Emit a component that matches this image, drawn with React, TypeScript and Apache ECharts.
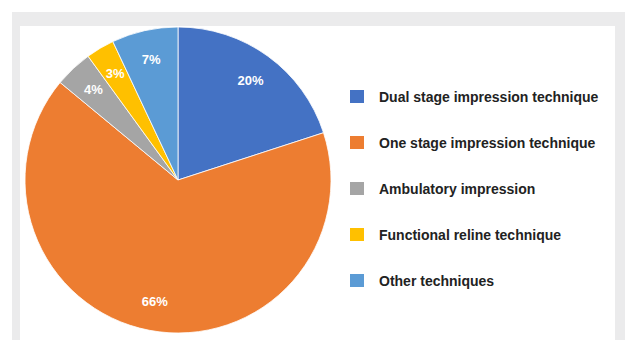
import React, { useEffect, useRef } from "react";
import * as echarts from "echarts";

const categories = [
  "Dual stage impression technique",
  "One stage impression technique",
  "Ambulatory impression",
  "Functional reline technique",
  "Other techniques",
];
const values = [20, 66, 4, 3, 7];
const colors = ["#4472c4", "#ed7d31", "#a5a5a5", "#ffc000", "#5b9bd5"];

export default function App() {
  const ref = useRef<HTMLDivElement>(null);
  useEffect(() => {
    if (!ref.current) return;
    const chart = echarts.init(ref.current, null, { renderer: "svg" });
    const data = categories.map((name, i) => ({
      name,
      value: values[i],
      itemStyle: { color: colors[i] },
    }));
    chart.setOption({
      animation: false,
      backgroundColor: "transparent",
      legend: {
        orient: "vertical",
        left: 343,
        top: 83,
        itemWidth: 16,
        itemHeight: 15,
        itemGap: 29,
        icon: "rect",
        data: categories,
        textStyle: {
          fontFamily: "Liberation Sans, Arial, sans-serif",
          fontSize: 14,
          fontWeight: "bold",
          color: "#222",
          padding: [0, 0, 0, 9],
        },
      },
      series: [
        {
          type: "pie",
          center: [178, 180],
          radius: [0, 153],
          startAngle: 90,
          clockwise: true,
          silent: true,
          data,
          itemStyle: { borderColor: "#ffffff", borderWidth: 0.8 },
          label: { show: false },
          labelLine: { show: false },
        },
        {
          type: "pie",
          center: [178, 180],
          radius: [88, 153],
          startAngle: 90,
          clockwise: true,
          silent: true,
          data: categories.map((name, i) => ({ name, value: values[i] })),
          itemStyle: { color: "rgba(0,0,0,0)" },
          label: {
            show: true,
            position: "inside",
            formatter: "{c}%",
            color: "#ffffff",
            fontFamily: "Liberation Sans, Arial, sans-serif",
            fontSize: 13,
            fontWeight: "bold",
          },
          labelLine: { show: false },
        },
      ],
    });
    return () => chart.dispose();
  }, []);
  return (
    <div style={{ position: "absolute", left: 0, top: 0, width: 625, height: 340, background: "#ffffff", overflow: "hidden" }}>
      <div style={{ position: "absolute", left: 12, top: 12, width: 613, height: 328, background: "#ebebec" }} />
      <div style={{ position: "absolute", left: 20, top: 26, width: 595, height: 314, background: "#ffffff" }} />
      <div ref={ref} style={{ position: "absolute", left: 0, top: 0, width: 625, height: 340 }} />
    </div>
  );
}
